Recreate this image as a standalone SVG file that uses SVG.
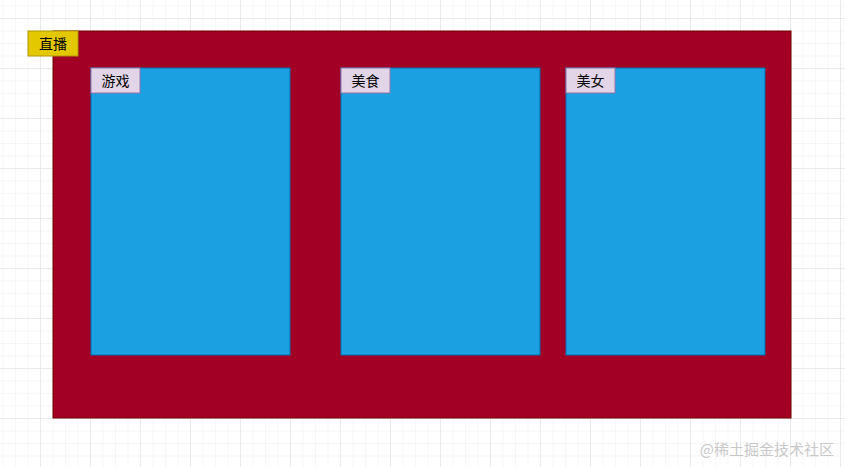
<svg xmlns="http://www.w3.org/2000/svg" width="845" height="467" viewBox="0 0 845 467">
<defs>
<pattern id="minor" width="12.5" height="12.5" patternUnits="userSpaceOnUse" x="-10" y="18">
<path d="M0 0H12.5M0 0V12.5" fill="none" stroke="#f0f0f0" stroke-width="1"/>
</pattern>
<pattern id="major" width="50" height="50" patternUnits="userSpaceOnUse" x="-10" y="18">
<path d="M0 0H50M0 0V50" fill="none" stroke="#dedede" stroke-width="1"/>
</pattern>
</defs>
<style>
text{font-family:"Noto Sans CJK SC","Liberation Sans",sans-serif;font-size:14px;fill:#000;}
.tag{fill:#e1d5e7;stroke:#9673a6;stroke-width:1;}
.card{fill:#1ba1e2;stroke:#006eaf;stroke-width:1;}
</style>
<rect width="845" height="467" fill="#ffffff"/>
<rect width="845" height="467" fill="url(#minor)"/>
<rect width="845" height="467" fill="url(#major)"/>
<g id="container">
<rect x="53" y="31" width="738" height="387" fill="#a20025" stroke="#6f0000" stroke-width="1"/>
</g>
<g id="live">
<rect x="28" y="31" width="50" height="25" fill="#e3c800" stroke="#b09500" stroke-width="1"/>
<text x="53" y="48.5" text-anchor="middle">直播</text>
</g>
<g id="games">
<rect class="card" x="91" y="68" width="199" height="287"/>
<rect class="tag" x="91" y="68" width="49" height="25"/>
<text x="115.5" y="85.5" text-anchor="middle">游戏</text>
</g>
<g id="food">
<rect class="card" x="341" y="68" width="199" height="287"/>
<rect class="tag" x="341" y="68" width="49" height="25"/>
<text x="365.5" y="85.5" text-anchor="middle">美食</text>
</g>
<g id="beauty">
<rect class="card" x="566" y="68" width="199" height="287"/>
<rect class="tag" x="566" y="68" width="49" height="25"/>
<text x="590.5" y="85.5" text-anchor="middle">美女</text>
</g>
<g id="connectors"/>
<text x="834" y="455" text-anchor="end" style="font-size:15px;fill:#c8c8c8;">@稀土掘金技术社区</text>
</svg>
